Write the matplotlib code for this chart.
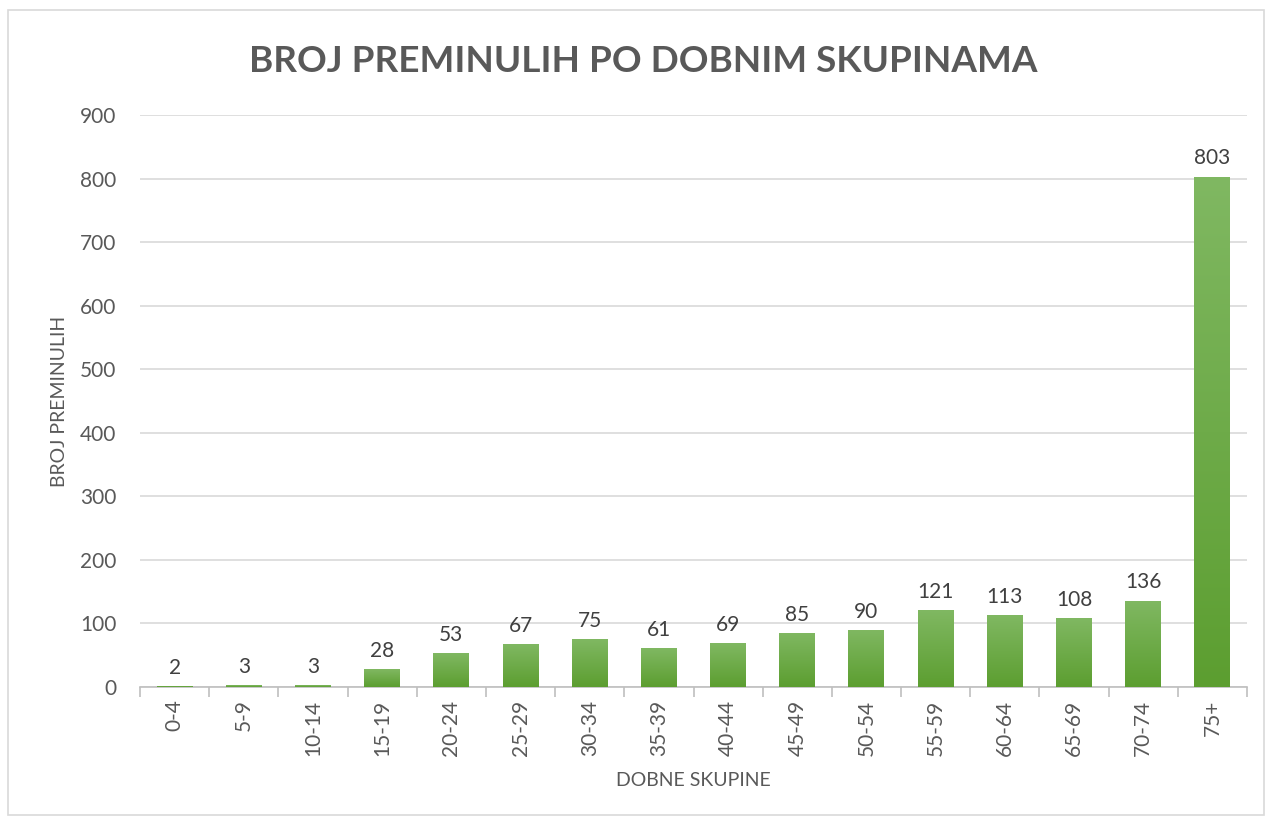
import numpy as np
import matplotlib.pyplot as plt
from matplotlib.patches import Rectangle
from matplotlib.colors import LinearSegmentedColormap

groups = ["0-4", "5-9", "10-14", "15-19", "20-24", "25-29", "30-34", "35-39",
          "40-44", "45-49", "50-54", "55-59", "60-64", "65-69", "70-74", "75+"]
deaths = [2, 3, 3, 28, 53, 67, 75, 61, 69, 85, 90, 121, 113, 108, 136, 803]

plt.rcParams['font.family'] = ['Lato', 'DejaVu Sans']

fig = plt.figure(figsize=(12.66, 8.23), dpi=100)
ax = fig.add_axes([0.1106, 0.1652, 0.8744, 0.6951])

x = np.arange(len(groups))
bars = ax.bar(x, deaths, width=0.52, color='none', zorder=3)

# vertical gradient, lighter at the top
cmap = LinearSegmentedColormap.from_list('g', ['#5c9e30', '#80b862'])
grad = np.linspace(0, 1, 256).reshape(-1, 1)
for b in bars:
    x0, y0 = b.get_x(), b.get_y()
    w, h = b.get_width(), b.get_height()
    im = ax.imshow(grad, cmap=cmap, origin='lower', aspect='auto',
                   extent=[x0, x0 + w, y0, y0 + h], zorder=3)
    im.set_clip_path(b)

for xi, v in zip(x, deaths):
    ax.text(xi, v + 13, str(v), ha='center', va='bottom', fontsize=15, color='#404040')

ax.set_xlim(-0.5, len(groups) - 0.5)
ax.set_ylim(0, 900)
ax.set_yticks(range(0, 901, 100))
ax.set_xticks(x)
ax.set_xticklabels(groups, rotation=90)
ax.set_xticks(np.arange(-0.5, len(groups), 1), minor=True)
ax.tick_params(axis='x', which='major', length=0, pad=9, labelsize=15, labelcolor='#595959')
ax.tick_params(axis='x', which='minor', length=7, color='#bfbfbf', width=1.2)
ax.tick_params(axis='y', length=0, pad=17, labelsize=15, labelcolor='#595959')

ax.grid(axis='y', color='#d9d9d9', linewidth=1.2, zorder=0)
ax.set_axisbelow(True)
for s in ['top', 'right', 'left']:
    ax.spines[s].set_visible(False)
ax.spines['bottom'].set_color('#bfbfbf')
ax.spines['bottom'].set_linewidth(1.2)

ax.set_xlabel("DOBNE SKUPINE", fontsize=14, color='#595959', labelpad=12)
ax.set_ylabel("BROJ PREMINULIH", fontsize=14, color='#595959', labelpad=9)

fig.text(0.508, 0.925, "BROJ PREMINULIH PO DOBNIM SKUPINAMA", ha='center', va='center',
         fontsize=26.6, fontweight='bold', color='#595959')

fig.patches.append(Rectangle((8 / 1266, 8 / 823), 1 - 8 / 1266 - 2 / 1266, 1 - 18 / 823,
                             transform=fig.transFigure, fill=False,
                             edgecolor='#d9d9d9', linewidth=1.2))

fig.savefig("out.png", dpi=100)
